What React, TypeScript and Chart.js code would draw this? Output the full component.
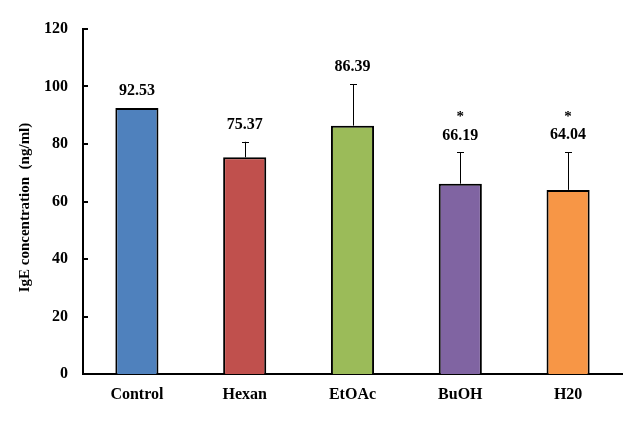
import React, { useEffect, useRef } from "react";
import { Chart, registerables } from "chart.js";

Chart.register(...registerables);

const categories = ["Control", "Hexan", "EtOAc", "BuOH", "H20"];
const values = [92.53, 75.37, 86.39, 66.19, 64.04];
const errors = [0, 5.4, 14.4, 10.9, 13.1];
const valueLabels = ["92.53", "75.37", "86.39", "66.19", "64.04"];
const significance = ["", "", "", "*", "*"];
const barColors = ["#4F81BD", "#C0504D", "#9BBB59", "#8064A2", "#F79646"];
const yMin = 0;
const yMax = 120;
const yStep = 20;
const yTitle = "IgE concentration  (ng/ml)";

const FONT = "'Times New Roman', 'Liberation Serif', serif";

const annotatePlugin = {
  id: "annotate",
  afterDatasetsDraw(chart: any) {
    const ctx = chart.ctx;
    const meta = chart.getDatasetMeta(0);
    const yScale = chart.scales.y;
    ctx.save();
    ctx.strokeStyle = "#000";
    ctx.fillStyle = "#000";
    ctx.lineWidth = 1;
    meta.data.forEach((bar: any, i: number) => {
      const x = Math.round(bar.x) + 0.5;
      const top = yScale.getPixelForValue(values[i] + errors[i]);
      if (errors[i] > 0) {
        ctx.beginPath();
        ctx.moveTo(x, bar.y);
        ctx.lineTo(x, top);
        ctx.moveTo(x - 3.5, Math.round(top) + 0.5);
        ctx.lineTo(x + 3.5, Math.round(top) + 0.5);
        ctx.stroke();
      }
      ctx.font = `bold 16px ${FONT}`;
      ctx.textAlign = "center";
      ctx.textBaseline = "middle";
      const ly = top - 17;
      ctx.fillText(valueLabels[i], bar.x, ly);
      if (significance[i]) {
        ctx.font = `bold 15px ${FONT}`;
        ctx.fillText(significance[i], bar.x, ly - 18);
      }
    });
    ctx.restore();
  },
  afterDraw(chart: any) {
    const ctx = chart.ctx;
    const yScale = chart.scales.y;
    const area = chart.chartArea;
    ctx.save();
    ctx.strokeStyle = "#000";
    ctx.lineWidth = 2;
    yScale.ticks.forEach((t: any) => {
      const y = Math.round(yScale.getPixelForValue(t.value));
      ctx.beginPath();
      ctx.moveTo(area.left, y);
      ctx.lineTo(area.left + 5, y);
      ctx.stroke();
    });
    // y-axis title
    ctx.fillStyle = "#000";
    ctx.font = `bold 15px ${FONT}`;
    ctx.textAlign = "center";
    ctx.textBaseline = "middle";
    ctx.translate(25, (area.top + area.bottom) / 2 + 6);
    ctx.rotate(-Math.PI / 2);
    ctx.fillText(yTitle, 0, 0);
    ctx.restore();
  },
};

export default function App() {
  const ref = useRef<HTMLCanvasElement>(null);
  useEffect(() => {
    document.body.style.margin = "0";
    const chart = new Chart(ref.current as HTMLCanvasElement, {
      type: "bar",
      data: {
        labels: categories,
        datasets: [
          {
            data: values,
            backgroundColor: barColors,
            borderColor: "#000",
            borderWidth: 2,
            borderSkipped: "bottom",
            barPercentage: 0.4,
            categoryPercentage: 1,
          },
        ],
      },
      options: {
        responsive: false,
        animation: false,
        layout: { padding: { top: 29, right: 14, left: 0, bottom: 0 } },
        plugins: { legend: { display: false }, tooltip: { enabled: false } },
        scales: {
          x: {
            grid: { display: false, drawTicks: false },
            border: { display: true, color: "#000", width: 2 },
            ticks: { color: "#000", font: { family: FONT, size: 16, weight: "bold" }, padding: 11 },
            afterFit: (s: any) => {
              s.height = 54;
            },
          },
          y: {
            min: yMin,
            max: yMax,
            grid: { display: false, drawTicks: false },
            border: { display: true, color: "#000", width: 2 },
            ticks: { stepSize: yStep, color: "#000", font: { family: FONT, size: 16, weight: "bold" }, padding: 15 },
            afterFit: (s: any) => {
              s.width = 83;
            },
          },
        },
      },
      plugins: [annotatePlugin],
    });
    return () => chart.destroy();
  }, []);
  return <canvas ref={ref} width={636} height={428} />;
}
